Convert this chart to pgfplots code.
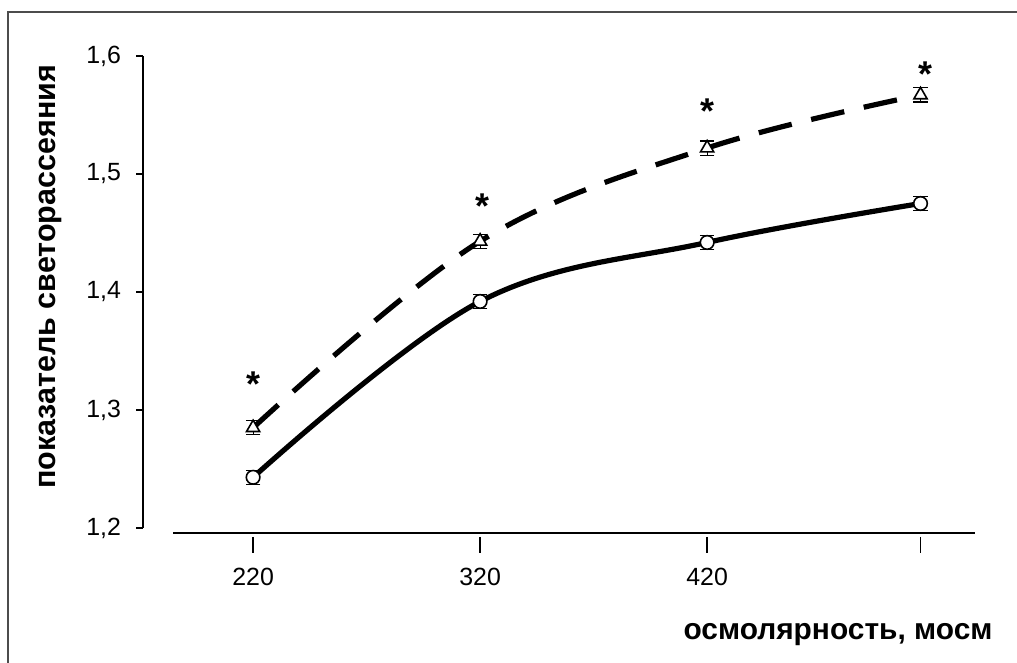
\documentclass[border=0pt]{standalone}
\usepackage{fontspec}
\setmainfont{Liberation Sans}
\usepackage{pgfplots}
\pgfplotsset{compat=1.18}

\begin{document}
\begin{tikzpicture}
\useasboundingbox (0bp,0bp) rectangle (508.5bp,331.5bp);
% outer frame (only left and top edges visible)
\draw[black!70, line width=0.6bp] (4bp,0bp) -- (4bp,325.5bp) -- (508.5bp,325.5bp);
\begin{axis}[
    at={(71.5bp,65bp)}, anchor=south west,
    scale only axis, width=416bp, height=238.5bp,
    xmin=171.5, xmax=538, ymin=1.1958, ymax=1.6,
    axis line style={draw=none},
    clip=false,
    xtick={220,320,420,514}, xticklabels={220,320,420,{}},
    ytick={1.2,1.3,1.4,1.5,1.6},
    yticklabels={{1,2},{1,3},{1,4},{1,5},{1,6}},
    ytick pos=left,
    xtick style={draw=none},
    ytick style={black, line width=0.6bp},
    tick align=outside, major tick length=3.5bp,
    ticklabel style={font=\fontsize{12.5}{14}\selectfont},
    xticklabel style={yshift=-10.5bp},
    yticklabel style={xshift=-4bp},
]
% axis lines
\draw[black, line width=0.6bp] (axis cs:171.5,1.2) -- (axis cs:171.5,1.6);
\draw[black, line width=1.1bp] (axis cs:184.8,1.1958) -- (axis cs:538,1.1958);
\draw[black, line width=0.8bp] ([yshift=-2bp]axis cs:220,1.1958) -- ([yshift=-10bp]axis cs:220,1.1958);
\draw[black, line width=0.8bp] ([yshift=-2bp]axis cs:320,1.1958) -- ([yshift=-10bp]axis cs:320,1.1958);
\draw[black, line width=0.8bp] ([yshift=-2bp]axis cs:420,1.1958) -- ([yshift=-10bp]axis cs:420,1.1958);
\draw[black, line width=0.8bp] ([yshift=-2bp]axis cs:514,1.1958) -- ([yshift=-10bp]axis cs:514,1.1958);
% solid series (circles)
\addplot[black, line width=2.6bp, smooth, tension=0.6,
    mark=*, mark size=3.4bp, mark options={solid, fill=white, draw=black, line width=0.8bp},
    error bars/.cd, y dir=both, y explicit,
    error bar style={solid, line width=0.6bp},
    error mark options={rotate=90, mark size=3.6bp, line width=0.6bp}]
  coordinates {
    (220,1.243) +- (0,0.006)
    (320,1.392) +- (0,0.006)
    (420,1.442) +- (0,0.006)
    (514,1.475) +- (0,0.006)
  };
% dashed series (triangles)
\addplot[black, line width=2.6bp, smooth, tension=0.6, dash pattern=on 17bp off 10bp,
    mark=triangle*, mark size=3.8bp, mark options={solid, fill=white, draw=black, line width=0.8bp},
    error bars/.cd, y dir=both, y explicit,
    error bar style={solid, line width=0.6bp},
    error mark options={rotate=90, mark size=3.6bp, line width=0.6bp}]
  coordinates {
    (220,1.285) +- (0,0.006)
    (320,1.443) +- (0,0.006)
    (420,1.522) +- (0,0.006)
    (514,1.567) +- (0,0.006)
  };
% significance marks
\node[font=\fontsize{18}{18}\selectfont\bfseries] at (axis cs:220,1.322) {*};
\node[font=\fontsize{18}{18}\selectfont\bfseries] at (axis cs:321,1.473) {*};
\node[font=\fontsize{18}{18}\selectfont\bfseries] at (axis cs:420,1.553) {*};
\node[font=\fontsize{18}{18}\selectfont\bfseries] at (axis cs:516,1.585) {*};
\end{axis}
\node[anchor=base, font=\fontsize{15}{18}\selectfont\bfseries] at (419bp,12bp) {осмолярность, мосм};
\node[rotate=90, anchor=base, font=\fontsize{15.3}{18}\selectfont\bfseries] at (27.5bp,193bp) {показатель светорассеяния};
\end{tikzpicture}
\end{document}
